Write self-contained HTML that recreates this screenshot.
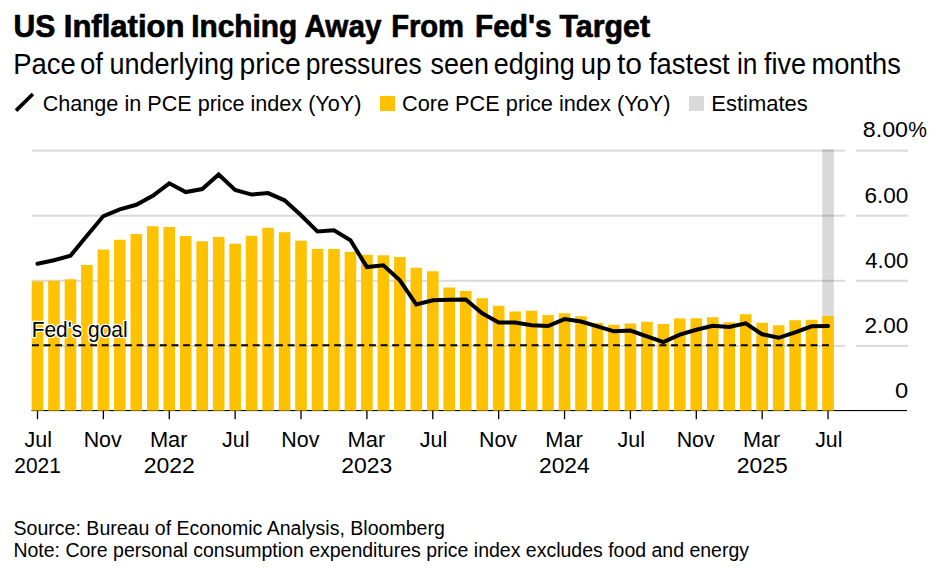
<!DOCTYPE html>
<html><head><meta charset="utf-8"><title>US Inflation Inching Away From Fed's Target</title>
<style>
html,body{margin:0;padding:0;background:#fff;}
body{width:932px;height:574px;overflow:hidden;}
svg{display:block;font-family:"Liberation Sans",sans-serif;fill:#000;}
</style></head><body>
<svg width="932" height="574" viewBox="0 0 932 574">
<rect x="0" y="0" width="932" height="574" fill="#fff"/>
<text x="13.45" y="36.8" font-size="31.2" font-weight="bold" stroke="#000" stroke-width="0.7" stroke-linejoin="round" textLength="41.79" lengthAdjust="spacingAndGlyphs">US</text>
<text x="63.75" y="36.8" font-size="31.2" font-weight="bold" stroke="#000" stroke-width="0.7" stroke-linejoin="round" textLength="120.75" lengthAdjust="spacingAndGlyphs">Inflation</text>
<text x="191.25" y="36.8" font-size="31.2" font-weight="bold" stroke="#000" stroke-width="0.7" stroke-linejoin="round" textLength="105.98" lengthAdjust="spacingAndGlyphs">Inching</text>
<text x="304.50" y="36.8" font-size="31.2" font-weight="bold" stroke="#000" stroke-width="0.7" stroke-linejoin="round" textLength="76.90" lengthAdjust="spacingAndGlyphs">Away</text>
<text x="391.15" y="36.8" font-size="31.2" font-weight="bold" stroke="#000" stroke-width="0.7" stroke-linejoin="round" textLength="72.91" lengthAdjust="spacingAndGlyphs">From</text>
<text x="475.10" y="36.8" font-size="31.2" font-weight="bold" stroke="#000" stroke-width="0.7" stroke-linejoin="round" textLength="76.54" lengthAdjust="spacingAndGlyphs">Fed's</text>
<text x="559.55" y="36.8" font-size="31.2" font-weight="bold" stroke="#000" stroke-width="0.7" stroke-linejoin="round" textLength="90.49" lengthAdjust="spacingAndGlyphs">Target</text>
<text x="13.25" y="73.6" font-size="28.6" textLength="62.55" lengthAdjust="spacingAndGlyphs">Pace</text>
<text x="80.00" y="73.6" font-size="28.6" textLength="23.06" lengthAdjust="spacingAndGlyphs">of</text>
<text x="109.50" y="73.6" font-size="28.6" textLength="124.65" lengthAdjust="spacingAndGlyphs">underlying</text>
<text x="239.50" y="73.6" font-size="28.6" textLength="61.20" lengthAdjust="spacingAndGlyphs">price</text>
<text x="305.75" y="73.6" font-size="28.6" textLength="115.93" lengthAdjust="spacingAndGlyphs">pressures</text>
<text x="430.50" y="73.6" font-size="28.6" textLength="58.37" lengthAdjust="spacingAndGlyphs">seen</text>
<text x="493.75" y="73.6" font-size="28.6" textLength="80.95" lengthAdjust="spacingAndGlyphs">edging</text>
<text x="580.75" y="73.6" font-size="28.6" textLength="30.43" lengthAdjust="spacingAndGlyphs">up</text>
<text x="617.00" y="73.6" font-size="28.6" textLength="25.04" lengthAdjust="spacingAndGlyphs">to</text>
<text x="649.00" y="73.6" font-size="28.6" textLength="80.70" lengthAdjust="spacingAndGlyphs">fastest</text>
<text x="737.00" y="73.6" font-size="28.6" textLength="20.46" lengthAdjust="spacingAndGlyphs">in</text>
<text x="764.00" y="73.6" font-size="28.6" textLength="42.16" lengthAdjust="spacingAndGlyphs">five</text>
<text x="811.50" y="73.6" font-size="28.6" textLength="89.34" lengthAdjust="spacingAndGlyphs">months</text>
<line x1="16.0" y1="110.65" x2="32.93" y2="94.0" stroke="#000" stroke-width="3.7"/>
<text x="42.70" y="110.6" font-size="22" textLength="318.74" lengthAdjust="spacingAndGlyphs">Change in PCE price index (YoY)</text>
<rect x="380" y="96" width="15" height="15" fill="#fec200"/>
<text x="402.00" y="110.6" font-size="22" textLength="268.45" lengthAdjust="spacingAndGlyphs">Core PCE price index (YoY)</text>
<rect x="689" y="96" width="15" height="15" fill="#d9d9d9"/>
<text x="711.25" y="110.6" font-size="22" textLength="96.54" lengthAdjust="spacingAndGlyphs">Estimates</text>
<rect x="32" y="149.6" width="813" height="2" fill="#dadada"/>
<rect x="856" y="149.6" width="52" height="2" fill="#dadada"/>
<rect x="32" y="214.7" width="813" height="2" fill="#dadada"/>
<rect x="856" y="214.7" width="52" height="2" fill="#dadada"/>
<rect x="32" y="279.8" width="813" height="2" fill="#dadada"/>
<rect x="856" y="279.8" width="52" height="2" fill="#dadada"/>
<rect x="32" y="344.9" width="813" height="2" fill="#dadada"/>
<rect x="856" y="344.9" width="52" height="2" fill="#dadada"/>
<rect x="31.5" y="410" width="875.5" height="1.1" fill="#000"/>
<rect x="822.26" y="149.3" width="11.6" height="261.30" fill="#000" fill-opacity="0.15"/>
<rect x="31.70" y="281.25" width="11.6" height="129.35" fill="#fec200"/>
<rect x="48.17" y="280.75" width="11.6" height="129.85" fill="#fec200"/>
<rect x="64.64" y="279.25" width="11.6" height="131.35" fill="#fec200"/>
<rect x="81.11" y="265.00" width="11.6" height="145.60" fill="#fec200"/>
<rect x="97.58" y="249.50" width="11.6" height="161.10" fill="#fec200"/>
<rect x="114.05" y="239.75" width="11.6" height="170.85" fill="#fec200"/>
<rect x="130.52" y="234.00" width="11.6" height="176.60" fill="#fec200"/>
<rect x="146.99" y="226.25" width="11.6" height="184.35" fill="#fec200"/>
<rect x="163.46" y="227.00" width="11.6" height="183.60" fill="#fec200"/>
<rect x="179.93" y="236.00" width="11.6" height="174.60" fill="#fec200"/>
<rect x="196.40" y="241.25" width="11.6" height="169.35" fill="#fec200"/>
<rect x="212.87" y="237.00" width="11.6" height="173.60" fill="#fec200"/>
<rect x="229.34" y="243.75" width="11.6" height="166.85" fill="#fec200"/>
<rect x="245.81" y="235.75" width="11.6" height="174.85" fill="#fec200"/>
<rect x="262.28" y="227.75" width="11.6" height="182.85" fill="#fec200"/>
<rect x="278.75" y="232.25" width="11.6" height="178.35" fill="#fec200"/>
<rect x="295.22" y="240.75" width="11.6" height="169.85" fill="#fec200"/>
<rect x="311.69" y="249.00" width="11.6" height="161.60" fill="#fec200"/>
<rect x="328.16" y="249.00" width="11.6" height="161.60" fill="#fec200"/>
<rect x="344.63" y="251.75" width="11.6" height="158.85" fill="#fec200"/>
<rect x="361.10" y="254.75" width="11.6" height="155.85" fill="#fec200"/>
<rect x="377.57" y="255.30" width="11.6" height="155.30" fill="#fec200"/>
<rect x="394.04" y="257.00" width="11.6" height="153.60" fill="#fec200"/>
<rect x="410.51" y="267.75" width="11.6" height="142.85" fill="#fec200"/>
<rect x="426.98" y="271.25" width="11.6" height="139.35" fill="#fec200"/>
<rect x="443.45" y="287.50" width="11.6" height="123.10" fill="#fec200"/>
<rect x="459.92" y="291.00" width="11.6" height="119.60" fill="#fec200"/>
<rect x="476.39" y="298.25" width="11.6" height="112.35" fill="#fec200"/>
<rect x="492.86" y="305.75" width="11.6" height="104.85" fill="#fec200"/>
<rect x="509.33" y="311.50" width="11.6" height="99.10" fill="#fec200"/>
<rect x="525.80" y="310.75" width="11.6" height="99.85" fill="#fec200"/>
<rect x="542.27" y="315.00" width="11.6" height="95.60" fill="#fec200"/>
<rect x="558.74" y="313.25" width="11.6" height="97.35" fill="#fec200"/>
<rect x="575.21" y="316.25" width="11.6" height="94.35" fill="#fec200"/>
<rect x="591.68" y="323.00" width="11.6" height="87.60" fill="#fec200"/>
<rect x="608.15" y="324.75" width="11.6" height="85.85" fill="#fec200"/>
<rect x="624.62" y="323.50" width="11.6" height="87.10" fill="#fec200"/>
<rect x="641.09" y="321.75" width="11.6" height="88.85" fill="#fec200"/>
<rect x="657.56" y="324.00" width="11.6" height="86.60" fill="#fec200"/>
<rect x="674.03" y="318.50" width="11.6" height="92.10" fill="#fec200"/>
<rect x="690.50" y="318.25" width="11.6" height="92.35" fill="#fec200"/>
<rect x="706.97" y="317.25" width="11.6" height="93.35" fill="#fec200"/>
<rect x="723.44" y="322.25" width="11.6" height="88.35" fill="#fec200"/>
<rect x="739.91" y="314.25" width="11.6" height="96.35" fill="#fec200"/>
<rect x="756.38" y="322.75" width="11.6" height="87.85" fill="#fec200"/>
<rect x="772.85" y="325.25" width="11.6" height="85.35" fill="#fec200"/>
<rect x="789.32" y="320.25" width="11.6" height="90.35" fill="#fec200"/>
<rect x="805.79" y="319.75" width="11.6" height="90.85" fill="#fec200"/>
<rect x="822.26" y="316.00" width="11.6" height="94.60" fill="#fec200"/>
<rect x="36.85" y="410.6" width="1.3" height="8.6" fill="#000"/>
<rect x="102.73" y="410.6" width="1.3" height="8.6" fill="#000"/>
<rect x="168.61" y="410.6" width="1.3" height="8.6" fill="#000"/>
<rect x="234.49" y="410.6" width="1.3" height="8.6" fill="#000"/>
<rect x="300.37" y="410.6" width="1.3" height="8.6" fill="#000"/>
<rect x="366.25" y="410.6" width="1.3" height="8.6" fill="#000"/>
<rect x="432.13" y="410.6" width="1.3" height="8.6" fill="#000"/>
<rect x="498.01" y="410.6" width="1.3" height="8.6" fill="#000"/>
<rect x="563.89" y="410.6" width="1.3" height="8.6" fill="#000"/>
<rect x="629.77" y="410.6" width="1.3" height="8.6" fill="#000"/>
<rect x="695.65" y="410.6" width="1.3" height="8.6" fill="#000"/>
<rect x="761.53" y="410.6" width="1.3" height="8.6" fill="#000"/>
<rect x="827.41" y="410.6" width="1.3" height="8.6" fill="#000"/>
<line x1="32" y1="345.2" x2="829" y2="345.2" stroke="#000" stroke-width="2" stroke-dasharray="6.9 4.72"/>
<text x="31.65" y="337.4" font-size="21.5" textLength="95.95" lengthAdjust="spacingAndGlyphs" stroke="#fff" stroke-width="2.6" stroke-linejoin="round" style="paint-order:stroke">Fed's goal</text>
<polyline points="37.50,263.80 53.97,260.30 70.44,255.80 86.91,235.80 103.38,216.05 119.85,209.30 136.32,204.80 152.79,195.80 169.26,183.30 185.73,192.05 202.20,189.05 218.67,174.55 235.14,189.90 251.61,194.55 268.08,193.10 284.55,200.30 301.02,215.30 317.49,231.55 333.96,230.30 350.43,240.30 366.90,267.05 383.37,265.30 399.84,280.30 416.31,304.55 432.78,300.20 449.25,299.80 465.72,299.50 482.19,313.30 498.66,322.55 515.13,322.55 531.60,325.30 548.07,326.05 564.54,319.05 581.01,321.55 597.48,326.30 613.95,331.30 630.42,330.55 646.89,336.30 663.36,342.10 679.83,334.70 696.30,329.80 712.77,325.80 729.24,327.05 745.71,323.30 762.18,334.30 778.65,337.80 795.12,332.30 811.59,326.30 828.06,326.05" fill="none" stroke="#000" stroke-width="4.0" stroke-linejoin="miter" stroke-linecap="round"/>
<text x="862.75" y="137.4" font-size="21.9" textLength="45.33" lengthAdjust="spacingAndGlyphs">8.00</text>
<text x="908.25" y="137.4" font-size="21.9" textLength="18.71" lengthAdjust="spacingAndGlyphs">%</text>
<text x="864.48" y="202.8" font-size="21.9" textLength="43.94" lengthAdjust="spacingAndGlyphs">6.00</text>
<text x="865.23" y="267.9" font-size="21.9" textLength="43.15" lengthAdjust="spacingAndGlyphs">4.00</text>
<text x="864.48" y="333.0" font-size="21.9" textLength="43.94" lengthAdjust="spacingAndGlyphs">2.00</text>
<text x="895.00" y="398.0" font-size="21.9" textLength="13.23" lengthAdjust="spacingAndGlyphs">0</text>
<text x="24.45" y="446.9" font-size="21.9" textLength="27.51" lengthAdjust="spacingAndGlyphs">Jul</text>
<text x="14.31" y="473.1" font-size="21.9" textLength="46.50" lengthAdjust="spacingAndGlyphs">2021</text>
<text x="83.68" y="446.9" font-size="21.9" textLength="38.01" lengthAdjust="spacingAndGlyphs">Nov</text>
<text x="149.93" y="446.9" font-size="21.9" textLength="37.60" lengthAdjust="spacingAndGlyphs">Mar</text>
<text x="143.68" y="473.1" font-size="21.9" textLength="51.27" lengthAdjust="spacingAndGlyphs">2022</text>
<text x="222.12" y="446.9" font-size="21.9" textLength="27.50" lengthAdjust="spacingAndGlyphs">Jul</text>
<text x="281.32" y="446.9" font-size="21.9" textLength="38.04" lengthAdjust="spacingAndGlyphs">Nov</text>
<text x="347.60" y="446.9" font-size="21.9" textLength="37.60" lengthAdjust="spacingAndGlyphs">Mar</text>
<text x="341.35" y="473.1" font-size="21.9" textLength="51.00" lengthAdjust="spacingAndGlyphs">2023</text>
<text x="419.79" y="446.9" font-size="21.9" textLength="27.51" lengthAdjust="spacingAndGlyphs">Jul</text>
<text x="478.99" y="446.9" font-size="21.9" textLength="38.05" lengthAdjust="spacingAndGlyphs">Nov</text>
<text x="545.27" y="446.9" font-size="21.9" textLength="37.60" lengthAdjust="spacingAndGlyphs">Mar</text>
<text x="539.02" y="473.1" font-size="21.9" textLength="50.72" lengthAdjust="spacingAndGlyphs">2024</text>
<text x="617.46" y="446.9" font-size="21.9" textLength="27.50" lengthAdjust="spacingAndGlyphs">Jul</text>
<text x="676.69" y="446.9" font-size="21.9" textLength="38.01" lengthAdjust="spacingAndGlyphs">Nov</text>
<text x="742.94" y="446.9" font-size="21.9" textLength="37.33" lengthAdjust="spacingAndGlyphs">Mar</text>
<text x="736.69" y="473.1" font-size="21.9" textLength="51.00" lengthAdjust="spacingAndGlyphs">2025</text>
<text x="815.13" y="446.9" font-size="21.9" textLength="27.24" lengthAdjust="spacingAndGlyphs">Jul</text>
<text x="13.57" y="534.7" font-size="19.5" textLength="431.25" lengthAdjust="spacingAndGlyphs">Source: Bureau of Economic Analysis, Bloomberg</text>
<text x="13.41" y="556.5" font-size="19.5" textLength="735.62" lengthAdjust="spacingAndGlyphs">Note: Core personal consumption expenditures price index excludes food and energy</text>
</svg>
</body></html>
